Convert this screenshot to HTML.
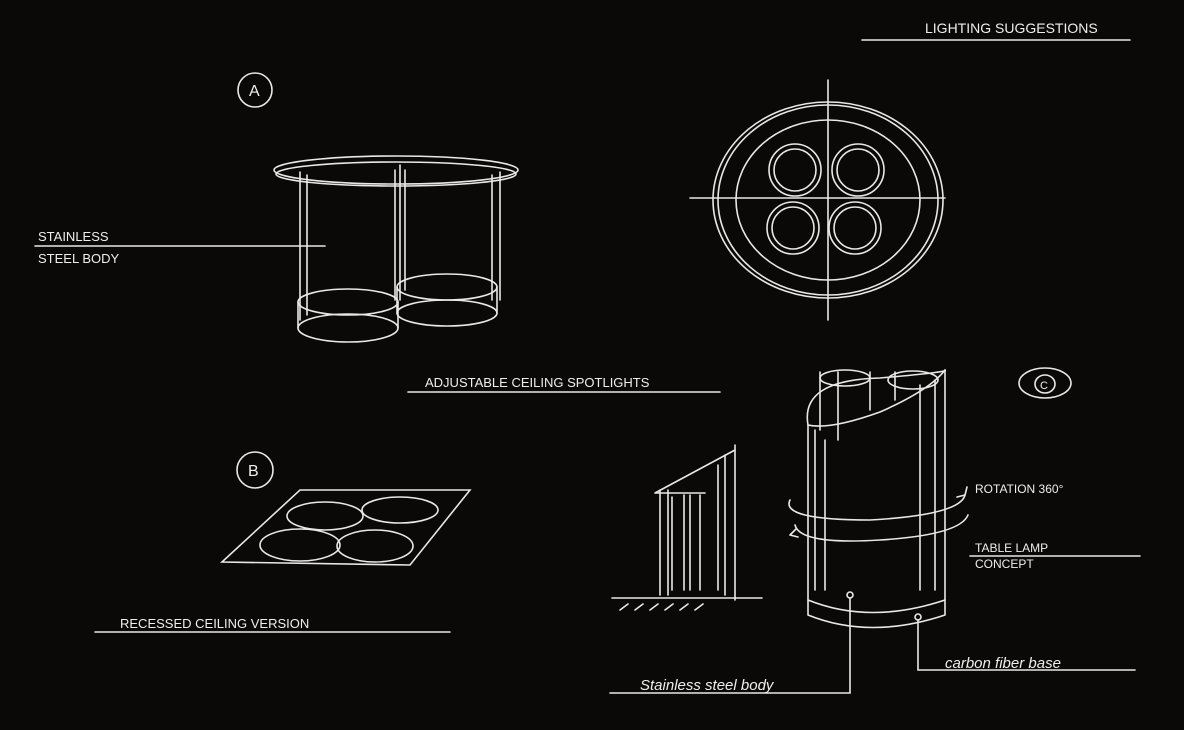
<!DOCTYPE html>
<html><head><style>
html,body{margin:0;padding:0;background:#0b0908;}
svg{display:block}
text{font-family:"Liberation Sans",sans-serif;fill:#eee;}
</style></head><body>
<svg width="1184" height="730" viewBox="0 0 1184 730" xmlns="http://www.w3.org/2000/svg">
<rect width="1184" height="730" fill="#0b0908"/>
<g stroke="#e8e8e8" fill="none" stroke-width="1.6" stroke-linecap="round">
<!-- title -->
<line x1="862" y1="40" x2="1130" y2="40"/>
<!-- A -->
<circle cx="255" cy="90" r="17"/>
<ellipse cx="396" cy="170" rx="122" ry="14"/>
<ellipse cx="396" cy="174" rx="120" ry="12"/>
<path d="M300 172 V320 M400 165 V300 M500 172 V300 M307 175 V315 M395 170 V300 M405 170 V290 M492 175 V300"/>
<ellipse cx="348" cy="302" rx="50" ry="13"/>
<ellipse cx="348" cy="328" rx="50" ry="14"/>
<path d="M298 302 V328 M398 302 V328"/>
<ellipse cx="447" cy="287" rx="50" ry="13"/>
<ellipse cx="447" cy="313" rx="50" ry="13"/>
<path d="M397 287 V313 M497 287 V313"/>
<line x1="35" y1="246" x2="325" y2="246"/>
<line x1="408" y1="392" x2="720" y2="392"/>
<!-- top view -->
<line x1="828" y1="80" x2="828" y2="320"/>
<line x1="690" y1="198" x2="945" y2="198"/>
<ellipse cx="828" cy="200" rx="115" ry="98"/>
<ellipse cx="828" cy="200" rx="110" ry="95"/>
<ellipse cx="828" cy="200" rx="92" ry="80"/>
<circle cx="795" cy="170" r="26"/><circle cx="858" cy="170" r="26"/>
<circle cx="793" cy="228" r="26"/><circle cx="855" cy="228" r="26"/>
<circle cx="795" cy="170" r="21"/><circle cx="858" cy="170" r="21"/>
<circle cx="793" cy="228" r="21"/><circle cx="855" cy="228" r="21"/>
<!-- C -->
<ellipse cx="1045" cy="383" rx="26" ry="15"/>
<ellipse cx="1045" cy="384" rx="10" ry="9"/>
<!-- B -->
<circle cx="255" cy="470" r="18"/>
<polygon points="222,562 300,490 470,490 410,565"/>
<ellipse cx="325" cy="516" rx="38" ry="14"/>
<ellipse cx="400" cy="510" rx="38" ry="13"/>
<ellipse cx="300" cy="545" rx="40" ry="16"/>
<ellipse cx="375" cy="546" rx="38" ry="16"/>
<line x1="95" y1="632" x2="450" y2="632"/>
<!-- side view -->
<path d="M660 490 V595 M668 490 V595 M672 497 V590 M684 495 V590 M690 495 V590 M700 495 V590 M725 455 V595 M718 465 V590 M735 445 V600"/>
<path d="M655 493 L735 450 M655 493 H705"/>
<line x1="612" y1="598" x2="762" y2="598"/>
<path d="M620 610 l8 -6 M635 610 l8 -6 M650 610 l8 -6 M665 610 l8 -6 M680 610 l8 -6 M695 610 l8 -6"/>
<!-- lamp -->
<path d="M808 425 V600 M945 370 V600 M815 430 V590 M825 440 V590 M935 380 V590 M920 385 V590"/>
<path d="M808 425 Q800 380 880 378 Q950 372 945 370 Q930 390 880 412 Q830 430 808 425 Z"/>
<path d="M820 372 V430 M838 372 V440 M870 372 V410 M895 372 V400"/>
<ellipse cx="845" cy="378" rx="25" ry="8"/>
<ellipse cx="913" cy="380" rx="25" ry="9"/>
<path d="M808 600 Q870 625 945 600 M808 615 Q870 640 945 615 M808 600 V615 M945 600 V615"/>
<path d="M790 500 Q780 520 870 520 Q960 515 965 495"/>
<path d="M795 525 Q800 545 880 540 Q960 535 968 515"/>
<path d="M965 495 l-8 2 M965 495 l2 -8"/>
<path d="M790 535 l6 -6 M790 535 l8 2"/>
<line x1="970" y1="556" x2="1140" y2="556"/>
<circle cx="850" cy="595" r="3"/>
<path d="M850 598 V693 H610"/>
<circle cx="918" cy="617" r="3"/>
<path d="M918 620 V670 H1135"/>
</g>
<g font-size="13">
<text x="925" y="33" font-size="14">LIGHTING SUGGESTIONS</text>
<text x="249" y="96" font-size="16">A</text>
<text x="38" y="241">STAINLESS</text>
<text x="38" y="263">STEEL BODY</text>
<text x="425" y="387">ADJUSTABLE CEILING SPOTLIGHTS</text>
<text x="248" y="476" font-size="16">B</text>
<text x="1040" y="389" font-size="11">C</text>
<text x="120" y="628">RECESSED CEILING VERSION</text>
<text x="975" y="493" font-size="12">ROTATION 360°</text>
<text x="975" y="552" font-size="12">TABLE LAMP</text>
<text x="975" y="568" font-size="12">CONCEPT</text>
<text x="945" y="668" font-size="15" font-style="italic">carbon fiber base</text>
<text x="640" y="690" font-size="15" font-style="italic">Stainless steel body</text>
</g>
</svg>
</body></html>
